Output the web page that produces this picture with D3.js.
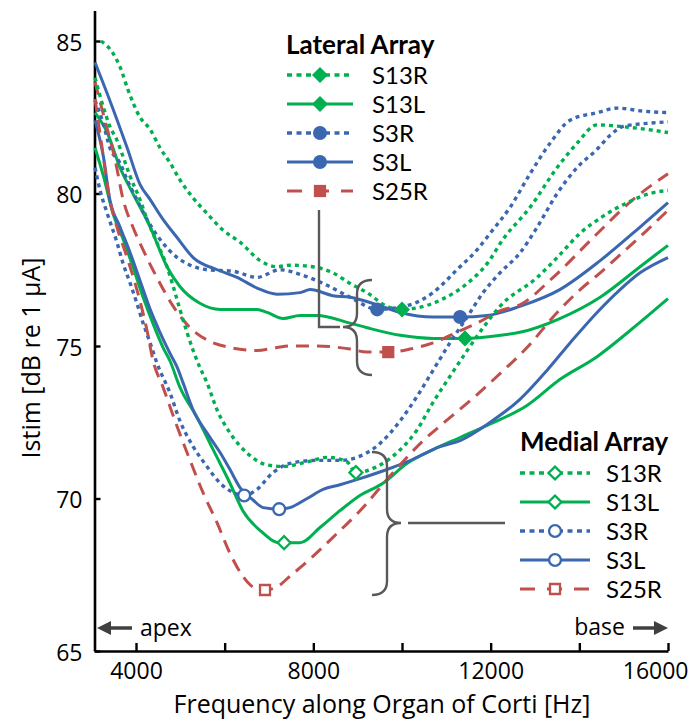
<!DOCTYPE html>
<html>
<head>
<meta charset="utf-8">
<script src="https://cdn.jsdelivr.net/npm/d3@7"></script>
<style>
  body { margin: 0; background: #fff; }
  svg { display: block; font-family: "Open Sans", sans-serif; }
  .legend text { font-family: Lato, "Open Sans", sans-serif; }
</style>
</head>
<body>
<svg id="chart" width="693" height="720"></svg>
<script>
// ---- data (frequency Hz, Istim dB re 1 uA) ----
const xTicks = [4000, 6000, 8000, 10000, 12000, 14000, 16000];
const xTickLabels = [4000, 8000, 12000, 16000];
const yTicks = [65, 70, 75, 80, 85];
const seriesNames = ["S13R", "S13L", "S3R", "S3L", "S25R"];

// lateral array
const latS13R = [[3210,85.0],[3480,84.6],[3640,84.15],[3820,83.4],[4090,82.5],[4320,82.1],[4540,81.5],[4770,81.0],[4990,80.45],[5290,79.85],[5600,79.35],[5960,78.8],[6350,78.4],[6800,77.8],[7180,77.6],[7470,77.65],[7990,77.6],[8440,77.4],[8830,77.05],[9210,76.75],[9660,76.3],[10000,76.2],[10340,76.25],[10860,76.5],[11470,77.05],[11920,77.7],[12280,78.5],[12890,79.55],[13500,80.85],[13950,81.65],[14400,82.25],[14920,82.2],[15530,82.1],[16000,82.0]];
const latS13L = [[3075,82.65],[3350,82.0],[3640,80.85],[3930,80.0],[4320,78.9],[4700,77.6],[4990,76.95],[5440,76.4],[5900,76.2],[6730,76.2],[6960,76.1],[7320,75.9],[7700,76.0],[8080,76.0],[8830,75.75],[9210,75.6],[9960,75.35],[10700,75.25],[11420,75.25],[12210,75.35],[12660,75.45],[13560,75.9],[14470,76.6],[15370,77.6],[16000,78.3]];
const latS3R = [[3075,83.05],[3260,82.3],[3410,81.5],[3640,81.0],[3800,80.45],[4020,79.8],[4250,79.15],[4540,78.5],[4930,77.9],[5220,77.65],[5600,77.5],[6190,77.45],[6730,77.25],[7250,77.5],[7700,77.35],[8150,77.1],[8830,76.6],[9440,76.2],[10180,76.35],[10700,76.75],[11240,77.5],[11690,78.15],[11990,78.7],[12440,79.55],[12890,80.65],[13340,81.65],[13790,82.4],[14400,82.65],[14850,82.8],[15440,82.7],[16000,82.65]];
const latS3L = [[3075,84.3],[3410,83.05],[3800,81.5],[4090,80.3],[4320,79.8],[4610,79.15],[4930,78.55],[5290,77.9],[5830,77.5],[6280,77.25],[6730,76.9],[7180,76.7],[7700,76.75],[7930,76.85],[8440,76.65],[8830,76.6],[9440,76.35],[9960,76.1],[10700,75.95],[11310,75.95],[11920,76.0],[12660,76.3],[13560,76.85],[14470,77.8],[15370,78.9],[16000,79.7]];
const latS25R = [[3075,83.65],[3300,82.4],[3530,81.1],[3710,79.8],[3930,78.9],[4160,78.15],[4470,77.25],[4840,76.3],[5220,75.6],[5600,75.2],[6120,74.95],[6730,74.85],[7180,74.95],[7470,75.0],[8080,75.0],[8830,74.9],[9210,74.8],[9690,74.8],[10180,74.9],[10700,75.1],[11240,75.45],[11690,75.75],[12210,76.15],[12660,76.35],[13410,77.25],[14310,78.55],[15210,79.8],[16000,80.65]];

// medial array
const medS13R = [[3075,83.8],[3260,82.85],[3410,82.2],[3570,81.75],[3710,81.2],[3870,80.55],[4090,79.8],[4250,79.15],[4470,78.4],[4700,77.6],[4840,76.95],[4990,76.2],[5150,75.45],[5290,74.85],[5440,74.3],[5600,73.8],[5830,72.9],[6120,72.15],[6500,71.5],[6960,71.1],[7320,71.05],[7860,71.2],[8310,71.35],[8760,71.2],[8960,70.85],[9440,71.05],[9960,71.6],[10340,72.25],[10700,73.15],[11080,74.0],[11470,74.85],[11830,75.6],[12210,76.3],[13050,77.25],[13500,77.9],[14020,78.7],[14530,79.25],[15080,79.7],[15590,80.0],[16000,80.1]];
const medS13L = [[3075,81.5],[3260,80.6],[3480,79.35],[3710,78.5],[3930,77.6],[4160,76.6],[4380,75.75],[4610,74.95],[4770,74.5],[4990,73.65],[5380,72.65],[5740,71.6],[6120,70.5],[6410,69.6],[6800,68.95],[7250,68.55],[7340,68.55],[7700,68.55],[8150,69.05],[8600,69.6],[9050,70.1],[9570,70.5],[10110,71.15],[10700,71.6],[11310,72.0],[11920,72.4],[12820,73.05],[13560,73.9],[14400,74.65],[15140,75.5],[16000,76.55]];
const medS3R = [[3075,80.85],[3190,80.1],[3350,79.35],[3570,78.4],[3710,77.7],[3870,77.05],[4020,76.4],[4160,75.75],[4320,75.1],[4470,74.45],[4770,73.45],[4990,72.55],[5290,71.7],[5600,71.05],[5900,70.5],[6190,70.2],[6440,70.1],[6730,70.3],[7090,70.85],[7470,71.15],[8080,71.25],[8600,71.25],[9210,71.5],[9500,71.8],[9960,72.55],[10340,73.35],[10700,74.2],[11080,75.1],[11470,75.95],[11830,76.75],[12210,77.4],[12660,78.05],[13050,78.9],[13500,80.0],[13950,80.85],[14400,81.45],[14690,81.9],[14990,82.2],[15530,82.3],[16000,82.35]];
const medS3L = [[3075,82.4],[3260,81.25],[3410,79.8],[3640,78.9],[3870,78.05],[4090,77.15],[4320,76.2],[4540,75.45],[4770,74.75],[4930,74.3],[5060,73.8],[5290,72.9],[5600,72.15],[5900,71.5],[6120,70.95],[6350,70.35],[6640,69.95],[6870,69.7],[7230,69.65],[7470,69.7],[7860,70.0],[8220,70.3],[8600,70.45],[9050,70.65],[9660,70.95],[10110,71.2],[10860,71.7],[11310,71.9],[11990,72.5],[12660,73.25],[13270,74.2],[13790,75.1],[14400,76.1],[14920,76.85],[15370,77.4],[16000,77.9]];
const medS25R = [[3075,83.1],[3210,81.75],[3410,79.8],[3570,78.9],[3800,77.9],[4020,76.85],[4250,75.5],[4380,74.55],[4610,73.65],[4930,72.35],[5220,71.25],[5510,70.2],[5830,69.2],[6120,68.2],[6410,67.45],[6640,67.1],[6910,67.0],[7180,67.1],[7470,67.45],[7990,68.1],[8530,68.85],[8990,69.5],[9800,70.85],[10410,71.8],[11080,72.65],[11690,73.4],[12140,74.0],[12820,74.95],[13500,76.1],[14020,76.85],[14470,77.4],[14850,77.9],[15530,78.8],[16000,79.45]];

// one marker per curve
const latMarkers = [[10000,76.2],[11420,75.25],[9440,76.2],[11310,75.95],[9690,74.8]];
const medMarkers = [[8960,70.85],[7340,68.55],[6440,70.1],[7230,69.65],[6910,67.0]];

// ---- styles ----
const green = "#00b050", blue = "#3b67b1", red = "#c0504d";
const styleOf = {
  S13R: { color: green, dash: "4,4", shape: "diamond" },
  S13L: { color: green, dash: null, shape: "diamond" },
  S3R:  { color: blue,  dash: "4,4", shape: "circle" },
  S3L:  { color: blue,  dash: null, shape: "circle" },
  S25R: { color: red,   dash: "13,8", shape: "square" }
};

const lateral = [latS13R, latS13L, latS3R, latS3L, latS25R].map((d, i) =>
  ({ name: seriesNames[i], data: d, marker: latMarkers[i], filled: true }));
const medial = [medS13R, medS13L, medS3R, medS3L, medS25R].map((d, i) =>
  ({ name: seriesNames[i], data: d, marker: medMarkers[i], filled: false }));

const svg = d3.select("#chart");

const x = d3.scaleLinear().domain([3064, 16000]).range([94.5, 668]);
const y = d3.scaleLinear().domain([65, 86]).range([651, 10.5]);

// axes
const xAxis = svg.append("g")
  .attr("transform", "translate(0,651)")
  .call(d3.axisBottom(x).tickValues(xTicks).tickSizeInner(-8).tickSizeOuter(0).tickPadding(12)
    .tickFormat(d => xTickLabels.includes(d) ? d : ""));
const yAxis = svg.append("g")
  .attr("transform", "translate(94.5,0)")
  .call(d3.axisLeft(y).tickValues(yTicks).tickSizeInner(-6).tickSizeOuter(0).tickPadding(12));

[xAxis, yAxis].forEach(g => {
  g.select(".domain").attr("stroke", "#000").attr("stroke-width", 2.6);
  g.selectAll(".tick line").attr("stroke", "#000").attr("stroke-width", 2.4);
  g.selectAll(".tick text").attr("fill", "#000").style("font-size", "23px")
    .style("font-family", "'Open Sans', sans-serif");
});
yAxis.selectAll(".tick text").attr("dy", "0.4em");
// last label is kept inside the picture, as in the original
xAxis.selectAll(".tick text").filter(d => d === 16000)
  .attr("text-anchor", "end").attr("x", 20);

svg.append("text")
  .attr("x", 382).attr("y", 713)
  .attr("text-anchor", "middle")
  .style("font-size", "25px")
  .text("Frequency along Organ of Corti [Hz]");

svg.append("text")
  .attr("transform", "translate(40,358) rotate(-90)")
  .attr("text-anchor", "middle")
  .style("font-size", "25px")
  .text("Istim [dB re 1 \u00b5A]");

// curves
const line = d3.line()
  .x(d => x(d[0]))
  .y(d => y(d[1]))
  .curve(d3.curveMonotoneX);

const allSeries = lateral.concat(medial);

svg.append("g").selectAll("path")
  .data(allSeries)
  .enter()
  .append("path")
    .attr("d", s => line(s.data))
    .attr("fill", "none")
    .attr("stroke", s => styleOf[s.name].color)
    .attr("stroke-width", s => styleOf[s.name].dash === "4,4" ? 3.4 : 3)
    .attr("stroke-dasharray", s => styleOf[s.name].dash);

function markerPath(shape, filled) {
  if (shape === "diamond") return d3.symbol(d3.symbolSquare, filled ? 128 : 84)();
  if (shape === "circle") return d3.symbol(d3.symbolCircle, filled ? 154 : 110)();
  return d3.symbol(d3.symbolSquare, filled ? 150 : 100)();
}

function drawMarker(g, name, filled, px, py) {
  const st = styleOf[name];
  g.append("path")
    .attr("d", markerPath(st.shape, filled))
    .attr("transform", `translate(${px},${py})` + (st.shape === "diamond" ? " rotate(45)" : ""))
    .attr("fill", filled ? st.color : "#fff")
    .attr("stroke", st.color)
    .attr("stroke-width", filled ? 0 : 2.3);
}

const markerG = svg.append("g");
allSeries.forEach(s => drawMarker(markerG, s.name, s.filled, x(s.marker[0]), y(s.marker[1])));

// legends
function legend(title, list, lx, ty, rowY0, x0, x1, tx) {
  const g = svg.append("g").attr("class", "legend");
  g.append("text")
    .attr("x", lx).attr("y", ty)
    .style("font-size", "26px").style("font-weight", "bold")
    .text(title);
  list.forEach((s, i) => {
    const st = styleOf[s.name];
    const ry = rowY0 + i * 29;
    g.append("line")
      .attr("x1", x0).attr("x2", x1).attr("y1", ry).attr("y2", ry)
      .attr("stroke", st.color)
      .attr("stroke-width", st.dash === "4,4" ? 3.4 : 3)
      .attr("stroke-dasharray", st.dash === "4,4" ? "5,4.5" : st.dash === "13,8" ? "15,12" : null);
    drawMarker(g, s.name, s.filled, (x0 + x1) / 2, ry);
    g.append("text")
      .attr("x", tx).attr("y", ry + 8.5)
      .style("font-size", "24px")
      .text(s.name);
  });
}
legend("Lateral Array", lateral, 286, 54, 75, 287, 353, 372);
legend("Medial Array", medial, 520, 451, 473, 520, 590, 606);

// braces and connectors
const gray = "#595959";
function brace(xc, top, mid, bottom, dir) {
  // dir = -1: tip points left "{", dir = 1: tip points right "}"
  const w = 15, r = 14, tip = 14;
  const p = d3.path();
  p.moveTo(xc - dir * w, top);
  p.quadraticCurveTo(xc, top, xc, top + r);
  p.lineTo(xc, mid - r);
  p.quadraticCurveTo(xc, mid, xc + dir * tip, mid);
  p.quadraticCurveTo(xc, mid, xc, mid + r);
  p.lineTo(xc, bottom - r);
  p.quadraticCurveTo(xc, bottom, xc - dir * w, bottom);
  svg.append("path").attr("d", p.toString())
    .attr("fill", "none").attr("stroke", gray).attr("stroke-width", 2.4);
}
brace(357, 280, 327, 375, -1);
svg.append("path")
  .attr("d", "M319,210V327H340")
  .attr("fill", "none").attr("stroke", gray).attr("stroke-width", 2.4);

brace(387, 452, 523, 595, 1);
svg.append("line")
  .attr("x1", 408).attr("x2", 505).attr("y1", 523).attr("y2", 523)
  .attr("stroke", gray).attr("stroke-width", 2.4);

// apex / base arrows
const dark = "#404040";
function arrow(xFrom, xTo, yy) {
  const dir = Math.sign(xTo - xFrom);
  svg.append("line")
    .attr("x1", xFrom).attr("x2", xTo - dir * 10).attr("y1", yy).attr("y2", yy)
    .attr("stroke", dark).attr("stroke-width", 3.5);
  svg.append("path")
    .attr("d", `M${xTo},${yy}L${xTo - dir * 14},${yy - 7}L${xTo - dir * 14},${yy + 7}Z`)
    .attr("fill", dark);
}
arrow(132, 97, 628);
svg.append("text").attr("x", 140).attr("y", 636).style("font-size", "23px").text("apex");
arrow(633, 668, 628);
svg.append("text").attr("x", 625).attr("y", 635).attr("text-anchor", "end")
  .style("font-size", "23px").text("base");
</script>
</body>
</html>
